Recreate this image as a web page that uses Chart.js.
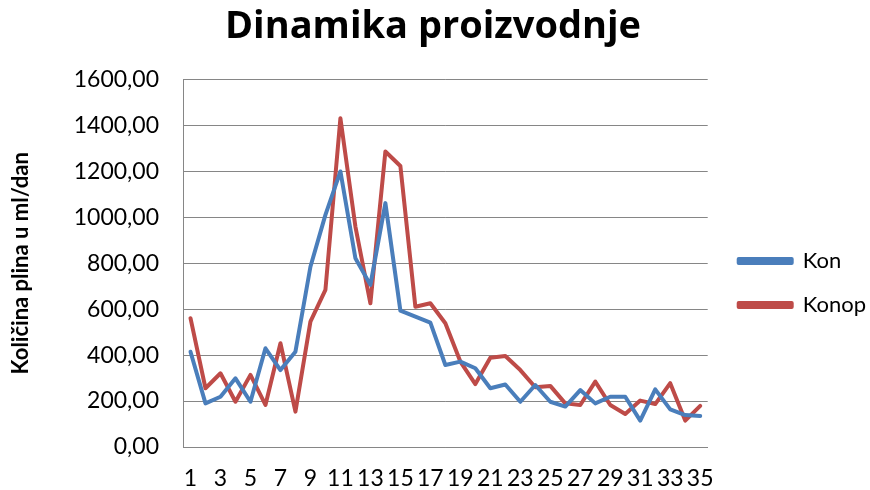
<!DOCTYPE html>
<html>
<head>
<meta charset="utf-8">
<script src="https://cdn.jsdelivr.net/npm/chart.js@4/dist/chart.umd.min.js"></script>
<style>
  html, body { margin: 0; padding: 0; background: #ffffff; }
  #wrap { width: 870px; height: 490px; position: relative; overflow: hidden; }
</style>
</head>
<body>
<div id="wrap"><canvas id="c" width="870" height="490"></canvas></div>
<script>
const days = ['1','2','3','4','5','6','7','8','9','10','11','12','13','14','15','16','17','18','19','20','21','22','23','24','25','26','27','28','29','30','31','32','33','34','35'];
const kon = [415, 190, 219, 299, 197, 430, 335, 415, 785, 1011, 1200, 822, 706, 1062, 594, 568, 542, 357, 372, 343, 256, 272, 197, 270, 197, 176, 248, 190, 219, 219, 115, 251, 164, 139, 135];
const konop = [561, 256, 321, 197, 314, 183, 452, 154, 546, 684, 1432, 960, 626, 1287, 1224, 611, 626, 539, 372, 274, 389, 396, 335, 260, 266, 190, 183, 285, 183, 144, 202, 187, 278, 115, 179];
const seriesNames = ['Kon', 'Konop'];
const chartTitle = 'Dinamika proizvodnje';
const yTitle = 'Količina plina u ml/dan';

const FONT = 'Lato, "Liberation Sans", sans-serif';
const TFONT = '"Open Sans", Lato, sans-serif';

new Chart(document.getElementById('c'), {
  type: 'line',
  data: {
    labels: days,
    datasets: [
      { label: seriesNames[0], data: kon, borderColor: '#4A7EBB', backgroundColor: '#4A7EBB',
        borderWidth: 4, pointRadius: 0, tension: 0, borderJoinStyle: 'round', borderCapStyle: 'round' },
      { label: seriesNames[1], data: konop, borderColor: '#BE4B48', backgroundColor: '#BE4B48',
        borderWidth: 4, pointRadius: 0, tension: 0, borderJoinStyle: 'round', borderCapStyle: 'round' }
    ]
  },
  options: {
    responsive: false,
    animation: false,
    layout: { padding: { left: -10, right: -6, top: 4, bottom: 0 } },
    plugins: {
      title: {
        display: true, text: chartTitle, color: '#000000',
        font: { family: TFONT, size: 38, weight: 'bold' },
        padding: { top: 0, bottom: 30 }
      },
      legend: {
        display: true, position: 'right', align: 'center', maxWidth: 300,
        title: { display: true, text: ' ', font: { size: 10 }, padding: { top: 60, bottom: 0 } },
        labels: {
          boxWidth: 53, boxHeight: 4, padding: 22, color: '#000000',
          font: { family: FONT, size: 22 }
        }
      },
      tooltip: { enabled: false }
    },
    scales: {
      x: {
        offset: true,
        grid: { display: false, drawTicks: false },
        border: { display: true, color: '#868686', width: 1 },
        afterFit: function(s) { s.height = 43; },
        ticks: {
          autoSkip: false, maxRotation: 0, minRotation: 0, padding: 18,
          color: '#000000', font: { family: FONT, size: 23 },
          callback: function(v, i) { return i % 2 === 0 ? days[i] : ''; }
        }
      },
      y: {
        min: 0, max: 1600,
        afterFit: function(s) { s.width = 193; },
        grid: { color: '#868686', lineWidth: 1, drawTicks: false },
        border: { display: true, color: '#868686', width: 1 },
        ticks: {
          stepSize: 200, padding: 24, color: '#000000',
          font: { family: FONT, size: 23 },
          callback: function(v) { return v.toFixed(2).replace('.', ','); }
        },
        title: {
          display: true, text: yTitle, color: '#000000',
          font: { family: FONT, size: 22, weight: 'bold' },
          padding: { top: 18, bottom: 6 }
        }
      },
      spacer: {
        type: 'linear', position: 'right', display: true, min: 0, max: 1,
        grid: { display: false, drawTicks: false },
        border: { display: false },
        ticks: { display: false },
        afterFit: function(s) { s.width = 9; }
      }
    }
  }
});
</script>
</body>
</html>
